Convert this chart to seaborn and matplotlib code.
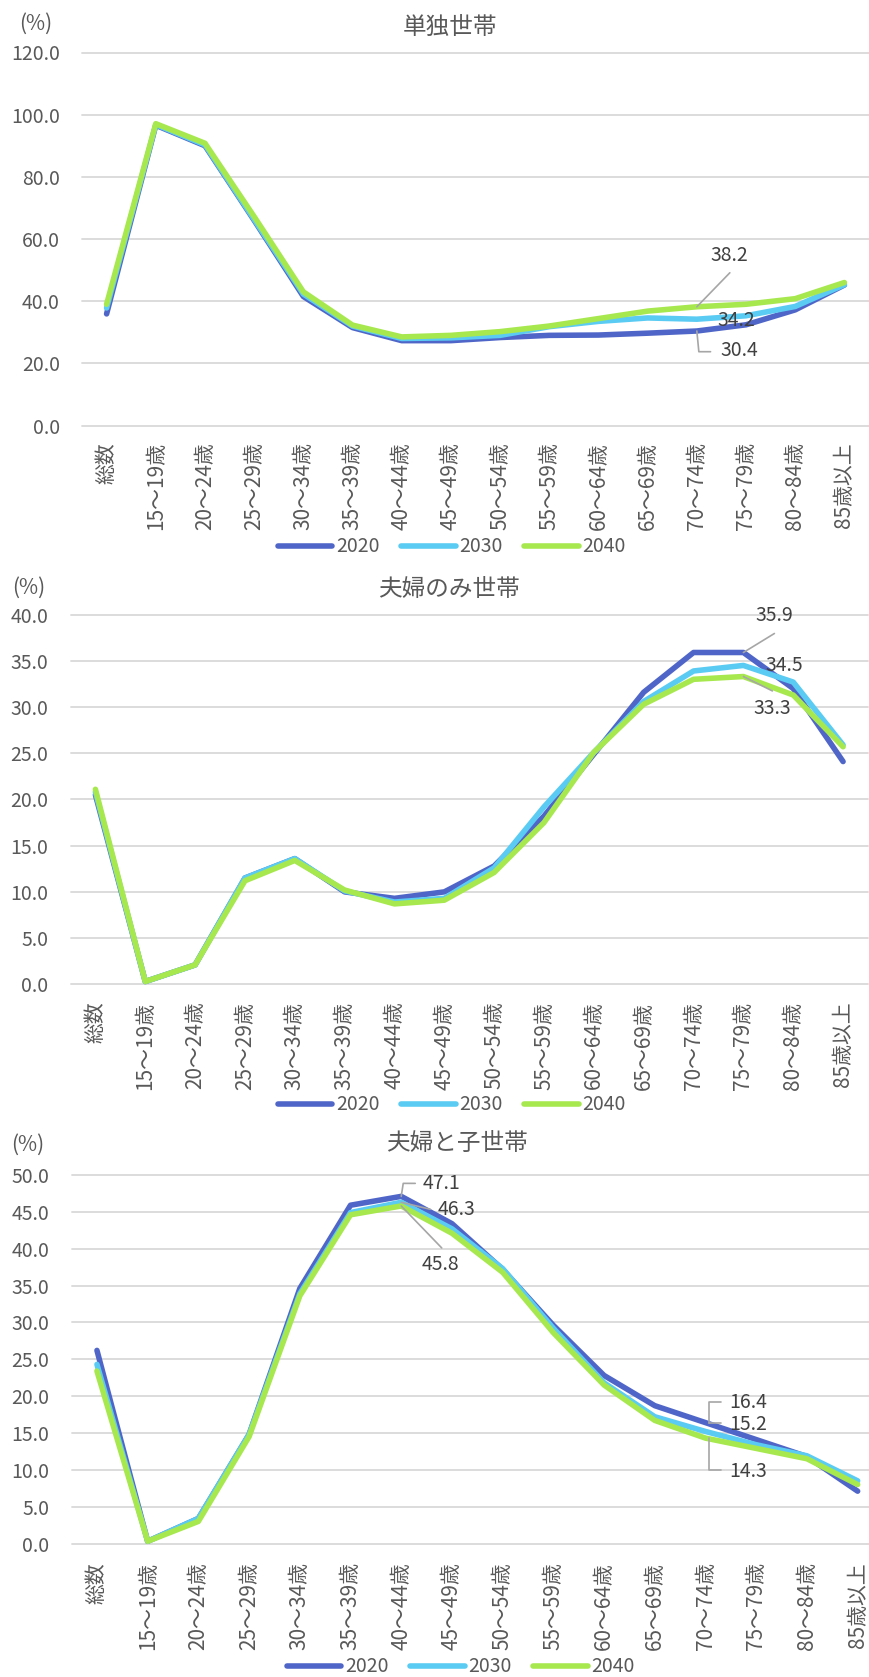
import matplotlib
matplotlib.use("Agg")
import numpy as np
import pandas as pd
import matplotlib.pyplot as plt
import seaborn as sns
from matplotlib.lines import Line2D

# ---- data -------------------------------------------------------------
categories = ["総数", "15～19歳", "20～24歳", "25～29歳", "30～34歳", "35～39歳",
              "40～44歳", "45～49歳", "50～54歳", "55～59歳", "60～64歳", "65～69歳",
              "70～74歳", "75～79歳", "80～84歳", "85歳以上"]
years = ["2020", "2030", "2040"]

single_2020 = [35.9, 96.6, 90.0, 66.0, 41.5, 31.5, 27.3, 27.3, 28.3, 29.0, 29.1, 29.7, 30.4, 32.4, 37.2, 45.2]
single_2030 = [37.8, 96.8, 90.3, 66.3, 42.3, 32.0, 28.0, 28.2, 29.0, 31.8, 33.5, 34.6, 34.2, 35.3, 38.3, 45.3]
single_2040 = [39.0, 97.1, 90.8, 67.2, 43.0, 32.3, 28.5, 29.0, 30.2, 32.0, 34.4, 36.8, 38.2, 39.0, 40.8, 46.0]

couple_2020 = [20.5, 0.3, 2.1, 11.5, 13.6, 10.0, 9.3, 10.0, 12.8, 18.2, 24.9, 31.6, 35.9, 35.9, 32.0, 24.1]
couple_2030 = [20.8, 0.3, 2.1, 11.5, 13.6, 10.1, 8.9, 9.3, 12.6, 19.2, 25.1, 30.6, 33.9, 34.5, 32.7, 25.9]
couple_2040 = [21.1, 0.3, 2.1, 11.2, 13.4, 10.2, 8.7, 9.1, 12.1, 17.5, 25.1, 30.3, 33.0, 33.3, 31.3, 25.7]

family_2020 = [26.2, 0.3, 3.4, 14.8, 34.6, 45.9, 47.1, 43.4, 37.2, 29.6, 22.8, 18.7, 16.4, 14.1, 11.8, 7.1]
family_2030 = [24.3, 0.3, 3.4, 14.8, 33.9, 44.9, 46.3, 42.7, 37.3, 29.2, 21.8, 17.2, 15.2, 13.4, 11.9, 8.5]
family_2040 = [23.4, 0.3, 3.0, 14.5, 33.6, 44.6, 45.8, 42.1, 36.8, 28.6, 21.5, 16.7, 14.3, 12.9, 11.5, 8.0]

titles = ["単独世帯", "夫婦のみ世帯", "夫婦と子世帯"]

# ---- style ------------------------------------------------------------
sns.set_theme(style="white")
plt.rcParams["font.family"] = ["Noto Sans CJK JP", "DejaVu Sans"]

palette = {"2020": "#4F66C8", "2030": "#5ACBF3", "2040": "#A7E84F"}
TEXT = "#595959"
LABEL = "#404040"
GRID = "#D9D9D9"
LEADER = "#A6A6A6"
FS = 14

W, H = 869, 1677
fig = plt.figure(figsize=(W / 100, H / 100), dpi=100)


def add_panel(left, right, top, bottom):
    return fig.add_axes([left / W, 1 - bottom / H, (right - left) / W, (bottom - top) / H])


def to_fig(ax, i, v, dx, dy):
    X, Y = ax.transData.transform((i, v))
    return fig.transFigure.inverted().transform((X + dx, Y - dy))


def draw_panel(ax, series, ymax, ystep, title, title_xy, pct_xy, legend_xy, xpad):
    df = pd.concat([
        pd.DataFrame({"idx": np.arange(len(categories)), "value": vals, "year": yr})
        for yr, vals in zip(years, series)
    ])
    sns.lineplot(data=df, x="idx", y="value", hue="year", hue_order=years,
                 palette=palette, linewidth=4, legend=False, errorbar=None,
                 sort=False, ax=ax)
    for ln in ax.lines:
        ln.set_solid_capstyle("round")
        ln.set_solid_joinstyle("round")
        ln.set_clip_on(False)

    ax.set_xlim(-0.5, len(categories) - 0.5)
    ax.set_ylim(0, ymax)
    ticks = np.arange(0, ymax + 0.001, ystep)
    for t in ticks:
        ax.axhline(t, color=GRID, lw=1.3, zorder=0, clip_on=False)
    ax.set_yticks(ticks)
    ax.set_yticklabels([f"{t:.1f}" for t in ticks], fontsize=FS, color=TEXT)
    ax.set_xticks(np.arange(len(categories)))
    ax.set_xticklabels(categories, rotation=90, ha="center", va="top",
                       fontsize=15, color=TEXT)
    ax.tick_params(axis="y", length=0, pad=16)
    ax.tick_params(axis="x", length=0, pad=xpad)
    ax.set_xlabel("")
    ax.set_ylabel("")
    for s in ax.spines.values():
        s.set_visible(False)
    ax.patch.set_alpha(0)

    fig.text(title_xy[0] / W, 1 - title_xy[1] / H, title, ha="center", va="center",
             fontsize=17, color=TEXT)
    fig.text(pct_xy[0] / W, 1 - pct_xy[1] / H, "(%)", ha="center", va="center",
             fontsize=15, color=TEXT)

    handles = [Line2D([], [], color=palette[y], lw=4, solid_capstyle="round") for y in years]
    ax.legend(handles, years, loc="center",
              bbox_to_anchor=(legend_xy[0] / W, 1 - legend_xy[1] / H),
              bbox_transform=fig.transFigure, ncol=3, frameon=False,
              fontsize=FS, handlelength=2.8, handletextpad=0.2, columnspacing=1.1,
              labelcolor=TEXT)


def callout(ax, i, v, text, text_off, path=None):
    if path:
        pts = [to_fig(ax, i, v, dx, dy) for dx, dy in path]
        fig.add_artist(Line2D([p[0] for p in pts], [p[1] for p in pts],
                              transform=fig.transFigure, color=LEADER, lw=1.2))
    tx, ty = to_fig(ax, i, v, *text_off)
    fig.text(tx, ty, text, ha="center", va="center", fontsize=FS, color=LABEL)


# ---- panel 1: single-person households ---------------------------------
ax1 = add_panel(82, 869, 52.5, 425.5)
draw_panel(ax1, [single_2020, single_2030, single_2040], 120, 20, titles[0],
           (450, 27), (36, 24), (452, 547), 12)
callout(ax1, 12, single_2040[12], "38.2", (32, -51), [(0, 0), (33, -34)])
callout(ax1, 12, single_2030[12], "34.2", (39, 1.5))
callout(ax1, 12, single_2020[12], "30.4", (42, 19.7), [(0, 0), (2, 20.7), (13.7, 20.7)])

# ---- panel 2: couple-only households ----------------------------------
ax2 = add_panel(70.5, 868, 614.6, 984.3)
draw_panel(ax2, [couple_2020, couple_2030, couple_2040], 40, 5, titles[1],
           (449, 590), (29, 588), (452, 1105), 12.5)
callout(ax2, 13, couple_2020[13], "35.9", (31, -36.6), [(0, 0), (31, -19)])
callout(ax2, 13, couple_2030[13], "34.5", (41, 0.5))
callout(ax2, 13, couple_2040[13], "33.3", (29, 31.7), [(0, 0), (29, 14.4)])

# ---- panel 3: couple-with-children households -------------------------
ax3 = add_panel(71.6, 883, 1175, 1543.5)
draw_panel(ax3, [family_2020, family_2030, family_2040], 50, 5, titles[2],
           (457, 1143), (28, 1145), (461, 1667), 13.5)
callout(ax3, 6, family_2020[6], "47.1", (40.5, -12.4), [(0, 0), (2, -13), (14, -13)])
callout(ax3, 6, family_2030[6], "46.3", (55, 7.7), [(0, 0), (29, 7)])
callout(ax3, 6, family_2040[6], "45.8", (39, 59), [(0, 0), (40.5, 42)])
callout(ax3, 12, family_2020[12], "16.4", (43, -20.3), [(3, 0), (3, -21), (15, -21)])
callout(ax3, 12, family_2030[12], "15.2", (43, -6.5), [(3, -8), (15, -8)])
callout(ax3, 12, family_2040[12], "14.3", (43, 33.6), [(3, 0), (3, 32), (15, 32)])

fig.savefig("out.png", dpi=100)
